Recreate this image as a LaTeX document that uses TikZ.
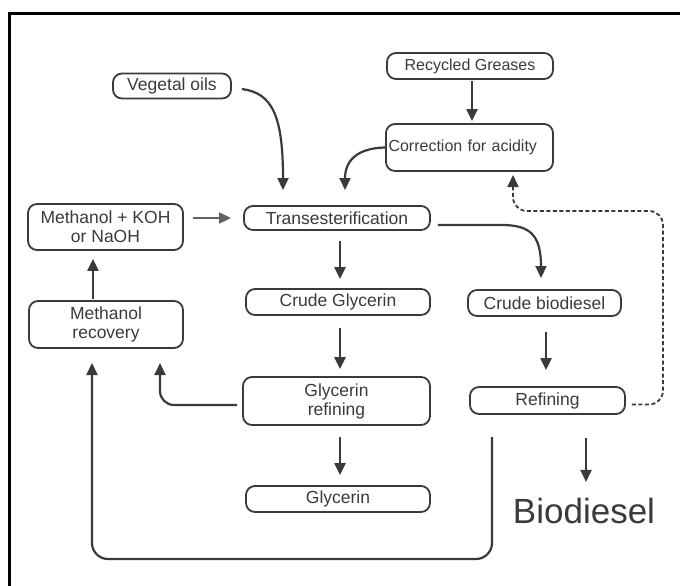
\documentclass[tikz,border=0pt]{standalone}
\usepackage{fontspec}
\setmainfont{Liberation Sans}
\usetikzlibrary{arrows.meta,calc}
\definecolor{ink}{HTML}{3A3A3A}
\begin{document}
\begin{tikzpicture}[x=1pt,y=-1pt,
  box/.style={draw=ink,line width=1.8pt,rounded corners=9pt,inner sep=2pt,
    text=ink,font=\fontsize{17.5}{19}\selectfont,align=center},
  arr/.style={draw=ink,line width=2.2pt,-{Triangle[length=12pt,width=11pt]}},
  thinarr/.style={draw=ink!80,line width=1.6pt,-{Triangle[length=12pt,width=11pt]}},
  dasharr/.style={draw=ink,line width=1.8pt,dash pattern=on 4pt off 2.5pt,rounded corners=14pt,-{Triangle[length=12pt,width=11pt]}}]
\useasboundingbox (0,0) rectangle (680,586);
% frame (top and left edges)
\draw[line width=3pt] (9.5,586) -- (9.5,13.5) -- (680,13.5);
% nodes
\node[box,minimum width=118pt,minimum height=25pt] (veg) at (172,86) {Vegetal oils};
\node[box,minimum width=166pt,minimum height=26pt,font=\fontsize{16}{18}\selectfont] (grease) at (470,66) {Recycled Greases};
\node[box,minimum width=167pt,minimum height=47pt,font=\fontsize{16}{18}\selectfont,text width=162pt,inner sep=2.5pt,align=left] (corr) at (469.5,147.5) {Correction for acidity};
\node[box,minimum width=155pt,minimum height=46pt] (mk) at (105.5,227) {Methanol + KOH\\or NaOH};
\node[box,minimum width=186pt,minimum height=24pt] (trans) at (337,218) {Transesterification};
\node[box,minimum width=184pt,minimum height=26pt] (cg) at (338,302) {Crude Glycerin};
\node[box,minimum width=153pt,minimum height=26pt] (cb) at (544.5,303) {Crude biodiesel};
\node[box,minimum width=154pt,minimum height=47pt] (mr) at (106,324.5) {Methanol\\recovery};
\node[box,minimum width=187pt,minimum height=48pt] (gr) at (336.5,401) {Glycerin\\refining};
\node[box,minimum width=155pt,minimum height=27pt] (ref) at (547.5,400.5) {Refining};
\node[box,minimum width=184pt,minimum height=26pt] (gly) at (338,499) {Glycerin};
\node[text=ink,font=\fontsize{35}{40}\selectfont,inner sep=0pt] (bio) at (584,511) {Biodiesel};
% free ends
\coordinate (vegS) at ($(veg.east)+(10,3)$);
\coordinate (vegE) at (283,190);
\coordinate (corE) at (345,190);
\coordinate (tcbS) at ($(trans.east)+(7,7)$);
\coordinate (grE) at (160,363);
\coordinate (loopS) at (492,437);
\coordinate (loopE) at (92,363);
\coordinate (refTip) at (513,175);
% connectors
\draw[arr] (vegS) .. controls (272,93) and (283,115) .. (vegE);
\draw[arr,shorten <=1pt,shorten >=2pt] (grease.south -| 472,0) -- (corr.north -| 472,0);
\draw[arr] (corr.west) .. controls (358,148) and (345,160) .. (corE);
\draw[thinarr] ($(mk.east)+(9,-9)$) -- ($(trans.west)+(-12,0)$);
\draw[arr] (tcbS) -- (505,225) .. controls (530,226) and (541,235) .. (541,278);
\draw[arr,shorten <=10pt,shorten >=9pt] (trans.south -| 340,0) -- (cg.north -| 340,0);
\draw[arr,shorten <=12pt,shorten >=7pt] (cg.south -| 340,0) -- (gr.north -| 340,0);
\draw[arr,shorten <=11pt,shorten >=10pt] (gr.south -| 340,0) -- (gly.north -| 340,0);
\draw[arr,shorten <=15pt,shorten >=16pt] (cb.south -| 546,0) -- (ref.north -| 546,0);
\draw[arr,shorten <=23pt,shorten >=16pt] (ref.south -| 586,0) -- (bio.north -| 586,0);
\draw[arr,rounded corners=14pt] ($(gr.west)+(-5,4)$) -| (grE);
\draw[arr,rounded corners=16pt] (loopS) |- (150,559) -| (loopE);
\draw[arr,shorten <=1pt,shorten >=8pt] (mr.north -| 93,0) -- (mk.south -| 93,0);
\draw[dasharr] ($(ref.east)+(6,4)$) -| (663,211) -| (refTip);
\end{tikzpicture}
\end{document}
